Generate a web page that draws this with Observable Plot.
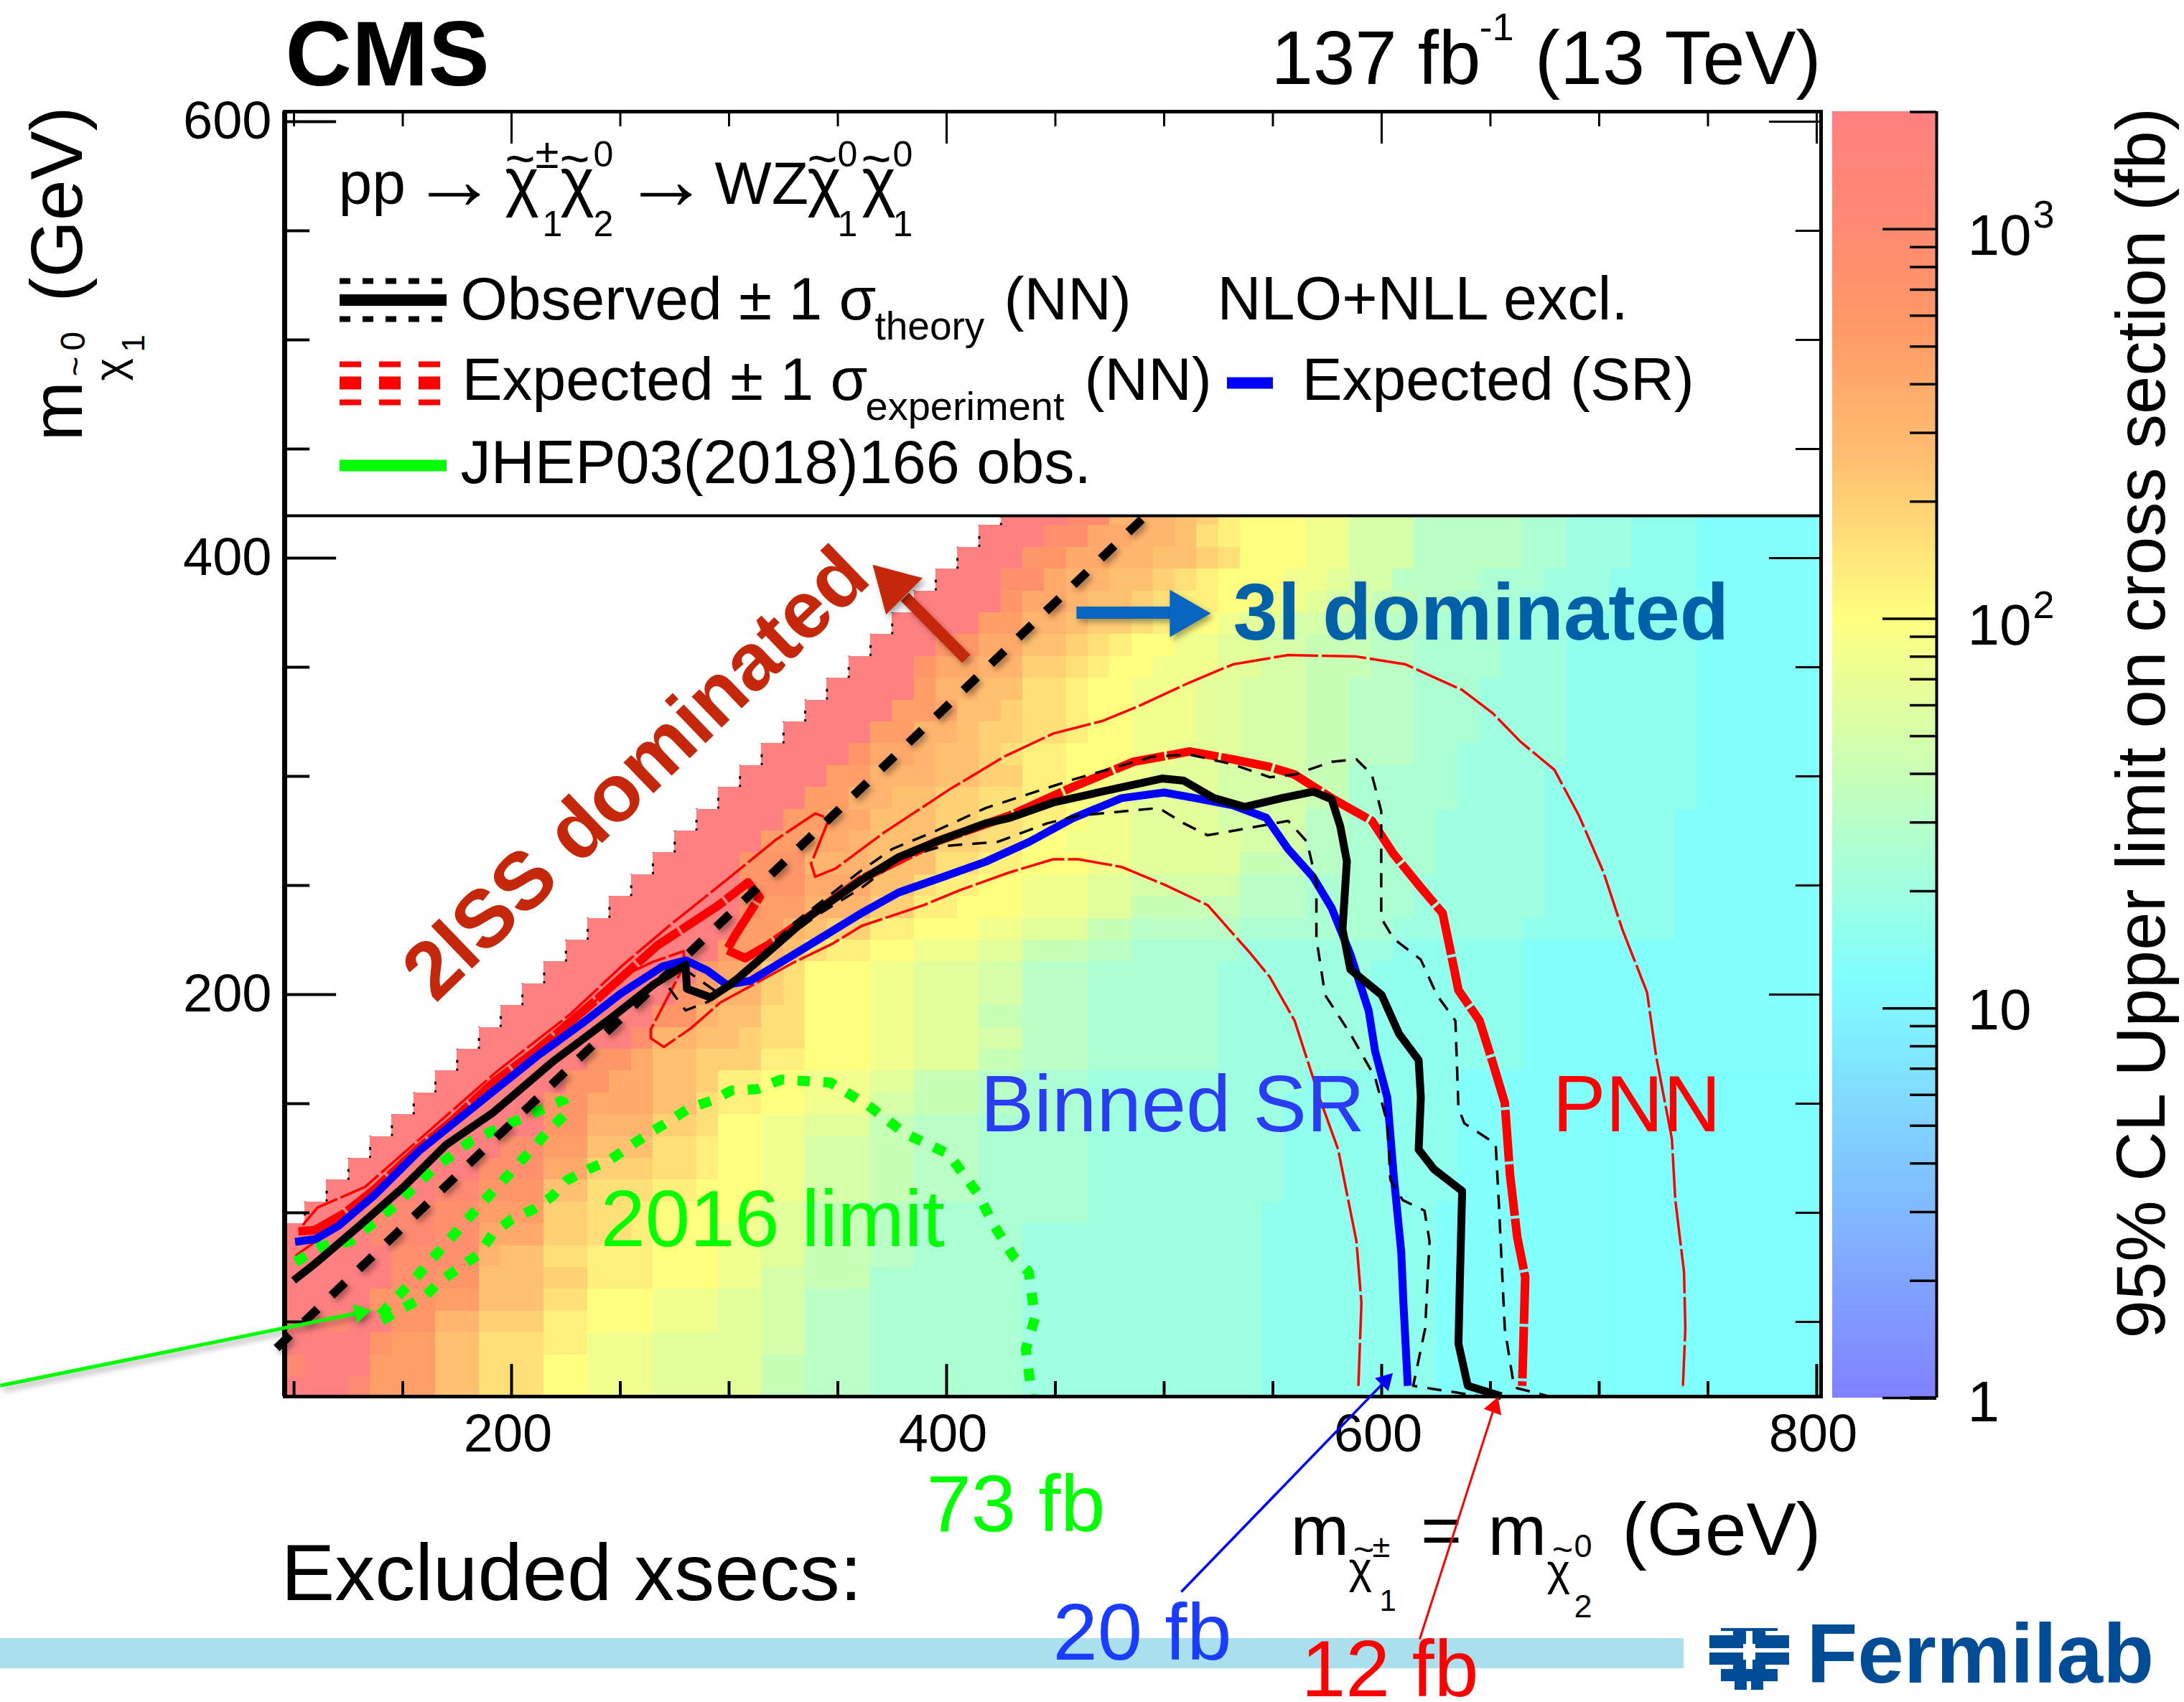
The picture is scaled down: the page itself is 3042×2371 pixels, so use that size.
<!DOCTYPE html>
<html>
<head>
<meta charset="utf-8">
<script src="https://cdn.jsdelivr.net/npm/d3@7"></script>
<script src="https://cdn.jsdelivr.net/npm/@observablehq/plot@0.6"></script>
<style>
html,body{margin:0;padding:0;background:#fff}
#wrap{position:relative;width:3042px;height:2371px;overflow:hidden}
#wrap svg{position:absolute;display:block;max-width:none}
</style>
</head>
<body>
<div id="wrap"></div>
<script>
// ---- limit map, one row per m(LSP) bin: level letter + upper x edge of the run
const heatRowY = [20,30,40,50,60,70,80,90,100,110,120,130,140,150,160,170,180,190,200,210,220,230,240,250,260,270,280,290,300,310,320,330,340,350,360,370,380,390,400,410,420];
const heatRows = [
"m125 l135 i165 f185 d215 b235 a265 9315 7335 6365 5435 4545 3625 2705 1999",
"l105 m135 i165 f185 d215 b235 a265 9315 7335 6365 5435 4545 3625 2705 1999",
"m135 j145 i165 f185 d215 c235 a265 9315 8335 6365 5435 4545 3625 2705 1999",
"m115 l125 m145 j165 g185 e215 c235 b265 a295 9315 8335 6365 5435 4545 3625 2705 1999",
"m135 j165 i185 f215 d235 b265 a295 9315 8335 6365 5435 4545 3625 2705 1999",
"m145 k165 j185 f215 e235 c265 b295 a315 8335 7365 5435 4545 3625 2705 1999",
"m145 k185 g195 f215 d235 c265 b295 a315 9335 7365 6385 5435 4545 3625 2705 1999",
"m135 l165 k185 h215 e235 d255 c265 b295 a315 9335 7365 6385 5435 4545 3625 2705 1999",
"m135 l165 k185 i215 e235 d255 c265 b305 a315 9335 7365 6385 5465 4545 3625 2705 1999",
"m165 l185 j215 f235 d265 c285 b315 a335 8365 7385 6415 5465 4555 3635 2705 1999",
"m185 k215 h235 e265 d285 c295 b315 a335 8365 7385 6415 5465 4555 3635 2705 1999",
"m195 k215 i235 f265 d285 c295 b315 a335 8365 7385 6415 5465 4555 3635 2705 1999",
"m215 j235 g265 e285 d295 b315 a335 9365 7385 6415 5465 4555 3635 2705 1999",
"m215 j235 h265 f285 d295 c315 b335 a365 8385 7415 6435 5465 4555 3635 2705 1999",
"m225 j245 h265 f285 e295 c315 b335 a365 9385 7415 6435 5465 4565 3635 2705 1999",
"m235 j255 h265 f285 e315 c335 b365 a385 9415 7435 6465 5525 4595 3665 2999",
"m255 k265 g285 f305 e315 d335 b365 a385 9415 8435 6465 5525 4595 3665 2999",
"m265 j285 g295 f315 d335 b365 a385 9415 7435 6465 5525 4595 3665 2999",
"m275 j285 i295 g315 e325 d335 b365 a385 9415 8435 6465 5525 4595 3665 2999",
"m285 i295 h315 e325 d335 b365 a385 9415 8435 6465 5525 4595 3665 2999",
"m295 i315 g325 f335 d345 c365 b385 a415 9435 7465 6485 5535 4605 3665 2999",
"m305 i325 g335 f345 e365 c385 b415 a435 9465 7485 6535 5605 4665 3735 2999",
"m305 k315 i335 g365 e385 c405 b435 a465 9485 7535 6565 5615 4675 3735 2999",
"m305 j335 h365 f385 d395 c415 b435 a465 9485 8535 6565 5615 4675 3735 2999",
"m305 j335 g365 f395 d415 c435 b465 a485 9535 7565 6585 5625 4675 3735 2999",
"m315 i335 h355 g365 f395 e415 d435 b455 a485 9535 8565 6585 5625 4675 3735 2999",
"m325 i345 h365 f395 e415 d435 c455 b465 a485 9525 8565 6585 5625 4675 3735 2999",
"m335 i355 g375 f395 e415 d435 c455 b465 a485 9525 8565 7585 5635 4675 3745 2999",
"m345 i365 g395 f415 e435 c455 b475 a495 9525 8565 7585 5635 4675 3745 2999",
"m355 j365 h385 g395 f415 e425 d435 c455 b485 a505 9535 8565 7585 6615 5635 4685 3745 2999",
"m365 i385 g405 f415 e435 d455 c465 b485 a515 9535 8565 7585 6615 5645 4685 3745 2999",
"m375 i395 h405 f425 e435 d455 c465 b485 a515 9535 8565 7585 6615 5645 4685 3745 2999",
"m385 i395 g415 f435 d455 c465 b485 a515 9535 8565 7585 6615 5645 4685 3745 2999",
"m385 j395 h415 g435 e455 d465 c475 b495 a525 9545 8565 7595 6615 5655 4685 3745 2999",
"m395 j415 h435 f455 e465 d475 c485 b505 a525 9545 8565 7595 6615 5655 4685 3745 2999",
"m415 i435 g455 f465 e485 d495 c505 b525 a535 9555 8575 7595 6625 5665 4695 3745 2999",
"m425 j435 h455 g465 f485 e495 d505 c525 b545 a565 9575 8595 7615 6635 5665 4705 3755 2999",
"m425 k445 h455 g475 f495 e505 d515 c525 b555 a575 9585 8605 6645 5675 4705 3745 2999",
"m435 j455 h475 g495 f515 e525 d535 b565 a585 8615 6665 5685 4715 3745 2999",
"m445 k465 h485 g505 f515 d525 c535 b565 a585 8615 6665 5685 4715 3745 2999",
"m455 l475 g505 f515 e525 c535 b565 a585 8615 6665 5685 4715 3745 2999"
];
const heatLevels = "0123456789abcdefghijklmn";
const levelLog = [0.9,1.08,1.1,1.2,1.3,1.4,1.5,1.6,1.7,1.8,1.9,2.0,2.1,2.2,2.3,2.4,2.5,2.6,2.7,2.8,2.9,3.0,3.3,3.3];

// ---- exclusion contours [m chargino, m LSP]
const observed = [[99.8,69],[109.4,76.5],[130,94],[150.5,112],[169.7,131],[191.6,146],[219,169.3],[246.4,189.8],[265.6,204.8],[280,213.7],[280.6,202.7],[291.6,198.7],[301,204.8],[310.5,213],[336.8,235.8],[361,252.6],[378,263],[395,270],[418,278.5],[429,281],[449,288],[475,293.8],[499,299],[509,298],[523,290],[537,286],[554,290],[568.5,293],[577,289.5],[581,277],[584,261],[582,230],[585.6,211.5],[600,199.8],[608,182],[617,170],[618,152.8],[617,129],[624,120],[637,110],[636,70.5],[635.3,40],[639.6,20.7],[655,16]];
const expectedSR = [[100.5,86.7],[110,88],[120.4,94],[136.8,107.9],[157.4,128.3],[183,148.8],[212,172],[232.7,187],[250.5,200.7],[269.7,213],[280,215.7],[290,211],[299,204.5],[310,206.4],[336.8,222.6],[361,237.4],[378,246.8],[398,253.8],[418,260.9],[438,270],[458,280.8],[480.4,290],[500,292.6],[514.5,290],[531.6,286.7],[547,281],[557,266.7],[568.5,253.8],[577,239.7],[585.6,218.5],[594,192.7],[597,174],[602.6,152.8],[605.5,117.5],[609,82],[610,58.7],[612,20.7]];
const expectedNN = [[102,91.5],[109.4,92],[123,99.7],[136.8,110.6],[157.4,129.7],[172.4,142],[191.6,159.7],[210.8,174],[221.7,183],[239.5,198],[267,222.5],[295,240.8],[308.7,251.4],[314,244.6],[302.7,227],[299,220.4],[307.4,216.7],[317.8,222.6],[336.8,235.8],[361,253],[395,270],[429,282],[457.7,295],[486,306.7],[511.7,311.4],[531.6,307.8],[548.6,304.3],[560,300.8],[577,290],[595.5,279.6],[605.5,264.4],[617,250.3],[628,237.3],[631,223],[635.3,202],[645,188],[651,169],[656.6,150.4],[659,117.5],[662.3,89],[666,70.5],[664.6,20.7]];
const expectedUp = [[104,94.3],[110.8,102.4],[132.7,111.9],[171.4,145.7],[193.3,164.8],[227,191],[251.5,213.8],[272.3,231.4],[299,252.7],[321.6,271],[339.6,283],[346,280.6],[337.7,260],[339.6,254],[349,257.8],[370.9,274],[387.6,285],[401,293.8],[426.4,309],[449,319.6],[472,325.5],[489,332.5],[511.7,343],[531.6,351.3],[557,355.6],[588.4,354.9],[611,351.3],[637,339.6],[651,329],[663.7,316],[679.4,303],[690.7,282],[702,256],[710.6,230],[722,201],[726.2,171.6],[733.4,134],[735,105.8],[739,72.9],[739.6,47],[738.5,20.7]];
const expectedDown = [[100.7,80.3],[120,94],[165,135],[200,163],[252,208.9],[265,215],[279.2,219.9],[279.2,213],[274,203],[264,184],[264,180],[270,176],[282.5,184.6],[296,196.4],[311,204.5],[329.7,214.7],[347.9,223.5],[361,231.5],[389.5,241],[406.5,248],[429,256],[449,262],[460.5,262],[480.4,258.5],[500.3,250.3],[520,241],[540,218.5],[548.6,208],[560,188],[571.4,152.8],[580,129],[588.4,87],[590.7,58.7],[589.3,20.7]];
const observedUp = [[279,212],[286,207],[296,200],[330,233],[361,257],[375,266.7],[395,275],[418,285.5],[457.7,298.4],[494.6,309],[511.7,310],[531.6,305.5],[548.6,299.6],[560,300.8],[577,306.7],[588.4,307.8],[595.5,300.8],[599.8,284],[599.8,235],[605.5,225.6],[618,216],[625.4,199.8],[633.9,188],[635.3,148],[638,141],[652.4,131.6],[653.8,105.8],[656.6,47],[660.9,20],[676.5,16]];
const observedDown = [[272.4,203],[280,192.7],[291,197],[300,206],[340,236],[361,249],[378,262],[398,268],[423.6,270],[446.3,278.5],[460.5,282],[497.5,285.5],[509,278.5],[520,273],[537,276],[557,279.6],[565.7,270],[570,251.5],[570,225.6],[574,199.8],[585.6,182],[597,162],[602.6,141],[604,115],[609.7,105.8],[619.7,101],[622,87],[620,47],[614.5,20.7],[645,16]];
const limit2016 = [[100.7,77.4],[112.5,84.7],[126,87],[146,103],[164.7,120.7],[173.9,127.3],[181.5,133],[191.6,137.6],[211.8,146.4],[223.6,151.6],[226,146.4],[216.9,137.6],[201.7,120.7],[186.6,104.6],[171.4,87.7],[157,71.5],[148.7,62.7],[139.4,53.1],[138.6,49.5],[149.5,56],[159.6,61.2],[167.2,68.6],[176.5,75.2],[184.9,81],[191.6,90.6],[200,97],[210.1,101.6],[218.5,107.5],[225.3,114.8],[235.4,120],[245.5,124.4],[254,130.3],[264,136.9],[272.4,142],[281.7,148],[292.6,151.6],[301,156],[312.9,156.7],[323.8,161],[334.7,160.4],[346.5,159.7],[363.9,149.2],[381,136.3],[400.8,127],[415,108],[420.7,96],[430.7,80],[437.8,72.9],[440.6,51.7],[436.4,37.6],[439.2,16.5]];
const diagonal = [[92,38],[490,418]];

// ---- axes
const xMajor = [200,400,600,800];
const xMinor = [100,150,250,300,350,450,500,550,650,700,750];
const yMajor = [200,400,600];
const yMinor = [50,100,150,250,300,350,450,500,550];
const zMajor = [1,10,100,1000];
const zMinor = [2,3,4,5,6,7,8,9,20,30,40,50,60,70,80,90,200,300,400,500,600,700,800,900,2000];

// ---- shared scales
const X0=95.7, X1=802, Y0=15.8, Y1=604.6, YB=419.4;
const colorScale = {type:"log", domain:[1,12,100,251,562,1000,2000],
  range:["#8080ff","#80ffff","#ffff80","#ffc070","#ff9966","#ff8a72","#ff8080"]};
const FONT = "Liberation Sans";

const cells = [];
heatRows.forEach((row,i)=>{
  const y = heatRowY[i]; let col = y+10;
  row.split(" ").forEach(run=>{
    const lv = levelLog[heatLevels.indexOf(run[0])], end = +run.slice(1);
    while (col < end && col <= 800) { cells.push({x:col,y,v:Math.pow(10,lv)}); col += 10; }
  });
});

// text placed relative to the page, through the frame's anchor
function label(text, px, py, o={}, frame=[396,155]) {
  return Plot.text([text], {text:d=>d, frameAnchor:"top-left", dx:px-frame[0], dy:py-frame[1],
    textAnchor:o.anchor||"start", lineAnchor:"bottom", fontSize:o.size||84,
    fontWeight:o.weight||"normal", fill:o.color||"#000", fontFamily:FONT, rotate:o.rotate||0});
}
const dataX = px => 200+(px-712)/3.03, dataY = py => 200-(py-1385)/3.04;
// soft shadow used by the reference on the diagonal and the arrows
const shadow = (i,s,v,d,c,next) => { const g = next(i,s,v,d,c); g.style.filter = "drop-shadow(4px 5px 4px rgba(0,0,0,0.35))"; return g; };
const line = (pts,o) => Plot.line(pts,{x:d=>d[0],y:d=>d[1],strokeLinejoin:"round",strokeLinecap:"butt",...o});
const head = (x,y,r,rotate,fill,render) => Plot.dot([[x,y]],{x:d=>d[0],y:d=>d[1],symbol:"triangle",r,rotate,fill,stroke:"none",render});
const legendLine = (py,x1,x2,stroke,w,dash) => Plot.ruleY([dataY(py)],{x1:dataX(x1),x2:dataX(x2),stroke,strokeWidth:w,strokeDasharray:dash});

const logo = [[2397,2268,2476,2272],[2381,2278,2428,2296],[2445,2278,2492,2296],[2414,2272,2432,2290],[2441,2272,2459,2290],
  [2381,2302,2428,2319],[2445,2302,2492,2319],[2414,2312,2432,2330],[2441,2312,2459,2330],[2397,2325,2476,2342],[2416,2342,2433,2354],[2439,2342,2456,2354]];

const main = Plot.plot({
  width:3042, height:2371, marginLeft:396, marginRight:506, marginTop:155, marginBottom:426,
  x:{domain:[X0,X1]}, y:{domain:[Y0,Y1]}, color:colorScale,
  style:{fontFamily:FONT, background:"#fff", overflow:"visible"},
  marks:[
    // bottom band
    Plot.rect([0],{x1:dataX(0),x2:dataX(2345),y1:dataY(2282),y2:dataY(2324),fill:"#aadfee"}),
    // limit map
    Plot.rect(cells,{x1:d=>d.x-5,x2:d=>d.x+5,y1:d=>d.y-5,y2:d=>Math.min(d.y+5,YB),fill:"v",clip:"frame",shapeRendering:"crispEdges"}),
    // stair-step contour fragments
    Plot.ruleX(d3.range(105,430,10),{x:d=>d,y1:d=>d-10,y2:d=>Math.min(d,YB),stroke:"#000",strokeWidth:3,strokeDasharray:"3 8 4 15"}),
    // contours
    line(expectedUp,{stroke:"#ff0000",strokeWidth:3.5,strokeDasharray:"62 5"}),
    line(expectedDown,{stroke:"#ff0000",strokeWidth:3.5,strokeDasharray:"62 5"}),
    line(limit2016,{stroke:"#00ff00",strokeWidth:14,strokeDasharray:"17 19",strokeLinejoin:"miter"}),
    line(expectedNN,{stroke:"#ff0000",strokeWidth:12,strokeDasharray:"72 4"}),
    line(diagonal,{stroke:"#000",strokeWidth:12,strokeDasharray:"26 27",render:shadow}),
    line(expectedSR,{stroke:"#0000ff",strokeWidth:11}),
    line(observedUp,{stroke:"#000",strokeWidth:3.5,strokeDasharray:"20 14"}),
    line(observedDown,{stroke:"#000",strokeWidth:3.5,strokeDasharray:"20 14"}),
    line(observed,{stroke:"#000",strokeWidth:11}),
    // legend box rule and frame ticks
    Plot.ruleY([YB],{stroke:"#000",strokeWidth:4}),
    Plot.ruleX(xMajor,{y1:Y0,y2:Y0+14.8,stroke:"#000",strokeWidth:4}),
    Plot.ruleX(xMinor,{y1:Y0,y2:Y0+6.9,stroke:"#000",strokeWidth:4}),
    Plot.ruleX(xMajor,{y1:Y1,y2:Y1-14.8,stroke:"#000",strokeWidth:3}),
    Plot.ruleX(xMinor,{y1:Y1,y2:Y1-6.9,stroke:"#000",strokeWidth:3}),
    Plot.ruleY(yMajor,{x1:X0,x2:X0+23.8,stroke:"#000",strokeWidth:4}),
    Plot.ruleY(yMinor,{x1:X0,x2:X0+11.6,stroke:"#000",strokeWidth:4}),
    Plot.ruleY(yMajor,{x1:X1,x2:X1-23.8,stroke:"#000",strokeWidth:3}),
    Plot.ruleY(yMinor,{x1:X1,x2:X1-11.6,stroke:"#000",strokeWidth:3}),
    Plot.frame({stroke:"#000",strokeWidth:5}),
    Plot.ruleX([X0],{stroke:"#000",strokeWidth:7}),
    Plot.axisX({anchor:"bottom",ticks:xMajor,tickSize:0,tickPadding:24,fontSize:74,dx:-5,label:null,tickFormat:d=>String(d)}),
    Plot.axisY({anchor:"left",ticks:yMajor,tickSize:0,tickPadding:18,fontSize:74,label:null,tickFormat:d=>String(d)}),
    // header
    label("CMS",397,118,{size:128,weight:"bold"}),
    label("137 fb",1770,116,{size:105}),
    label("-1",2060,55,{size:54}),
    label("(13 TeV)",2536,116,{size:106,anchor:"end"}),
    // process line
    label("pp",471,283,{size:84}),
    label("→",632,290,{size:120,anchor:"middle"}),
    label("χ",703,283,{size:90}), label("~",724,245,{size:72,anchor:"middle"}), label("1",755,328,{size:50}), label("±",745,233,{size:60}),
    label("χ",780,283,{size:90}), label("~",800,245,{size:72,anchor:"middle"}), label("2",826,328,{size:50}), label("0",826,231,{size:50}),
    label("→",927,290,{size:120,anchor:"middle"}),
    label("WZ",995,283,{size:84}),
    label("χ",1124,283,{size:90}), label("~",1145,245,{size:72,anchor:"middle"}), label("1",1166,328,{size:50}), label("0",1166,231,{size:50}),
    label("χ",1200,283,{size:90}), label("~",1220,245,{size:72,anchor:"middle"}), label("1",1243,328,{size:50}), label("0",1243,231,{size:50}),
    // legend
    legendLine(417.6,473,622,"#000",16),
    legendLine(391,473,622,"#000",8,"15 17"),
    legendLine(444,473,622,"#000",8,"15 17"),
    legendLine(533,473,616,"#ff0000",18,"30 25"),
    legendLine(507,473,616,"#ff0000",8,"30 25"),
    legendLine(560,473,616,"#ff0000",8,"30 25"),
    legendLine(533,1709,1773,"#0000ff",16),
    legendLine(648,473,622,"#00ff00",16),
    label("Observed ± 1 σ",641,444,{size:84}),
    label("theory",1218,472,{size:55}),
    label("(NN)",1398,444,{size:84}),
    label("NLO+NLL excl.",1695,444,{size:84.5}),
    label("Expected ± 1 σ",643,556,{size:84}),
    label("experiment",1205,584,{size:56}),
    label("(NN)",1510,556,{size:84}),
    label("Expected (SR)",1813,556,{size:84}),
    label("JHEP03(2018)166 obs.",641,672,{size:84.5}),
    // y title
    label("m",113,614,{size:100,rotate:-90}),
    label("0",117,488,{size:48,rotate:-90}),
    label("χ",172,530,{size:60,rotate:-90}),
    label("~",120,510,{size:48,rotate:-90,anchor:"middle"}),
    label("1",200,490,{size:44,rotate:-90}),
    label("(GeV)",113,420,{size:102,rotate:-90}),
    // colour-bar title
    label("95% CL Upper limit on cross section (fb)",3014,1864,{size:96,rotate:-90}),
    // x title
    label("m",1797,2165,{size:98}),
    label("χ",1878,2204,{size:62}), label("~",1899,2175,{size:50,anchor:"middle"}), label("±",1911,2168,{size:45}), label("1",1921,2243,{size:42}),
    label("=",2007,2165,{size:98,anchor:"middle"}),
    label("m",2072,2165,{size:98}),
    label("χ",2154,2207,{size:62}), label("~",2176,2175,{size:50,anchor:"middle"}), label("0",2192,2168,{size:45}), label("2",2192,2252,{size:45}),
    label("(GeV)",2536,2165,{size:104,anchor:"end"}),
    // annotations
    label("2lSS dominated",606,1398,{size:113,weight:"bold",color:"#c4270a",rotate:-44}),
    label("3l dominated",1717,890,{size:112,weight:"bold",color:"#0060a8"}),
    label("Binned SR",1365,1575,{size:112,color:"#2a3cf4"}),
    label("PNN",2162,1575,{size:111,color:"#ff0000"}),
    label("2016 limit",836,1735,{size:112,color:"#00ff00"}),
    label("Excluded xsecs:",391,2228,{size:112}),
    label("73 fb",1290,2132,{size:112,color:"#00ff00"}),
    label("20 fb",1466,2311,{size:112,color:"#1a3cff"}),
    label("12 fb",1812,2362,{size:111,color:"#ff0000"}),
    // arrows
    line([[409,353.8],[380.8,382.3]],{stroke:"#c4270a",strokeWidth:16,render:shadow}),
    head(375.7,387.3,26.7,-45,"#c4270a",shadow),
    line([[459.7,375],[503,375]],{stroke:"#0866c0",strokeWidth:17,render:shadow}),
    head(508.9,374.7,24.5,90,"#0866c0",shadow),
    line([[-35,20.8],[130.5,54.3]],{stroke:"#00ff00",strokeWidth:5,render:shadow}),
    head(130.5,54.3,10,78,"#00ff00",shadow),
    line([[507.9,-73.7],[601.7,23]],{stroke:"#0000ff",strokeWidth:3.5}),
    head(601.7,23,9.6,44,"#0000ff"),
    line([[dataX(1977),dataY(2283)],[651.8,11]],{stroke:"#ff0000",strokeWidth:3}),
    head(651.8,11,9.6,20,"#ff0000"),
    // Fermilab mark
    Plot.rect(logo,{x1:d=>dataX(d[0]),y1:d=>dataY(d[1]),x2:d=>dataX(d[2]),y2:d=>dataY(d[3]),fill:"#004c97"}),
    label("Fermilab",2516,2343,{size:116,weight:"bold",color:"#004c97"})
  ]
});
main.style.left="0"; main.style.top="0";

// colour bar with its own log axis
const ramp = d3.range(0,320).map(i=>{const a=i*3.302/320,b=(i+1)*3.302/320;return {lo:Math.pow(10,a),hi:Math.pow(10,b),v:Math.pow(10,(a+b)/2)};});
const cb=[2552,155];
const bar = Plot.plot({
  width:490, height:2371, marginLeft:0, marginRight:345, marginTop:155, marginBottom:2371-1947,
  x:{domain:[0,1],axis:null}, y:{type:"log",domain:[1,2004],axis:null}, color:colorScale,
  style:{fontFamily:FONT, background:"transparent", overflow:"visible"},
  marks:[
    Plot.rect(ramp,{x1:0,x2:1,y1:"lo",y2:"hi",fill:"v",shapeRendering:"crispEdges"}),
    Plot.ruleY(zMajor,{x1:1-75/145,x2:1,stroke:"#000",strokeWidth:3.5}),
    Plot.ruleY(zMinor,{x1:1-37/145,x2:1,stroke:"#000",strokeWidth:3.5}),
    Plot.ruleX([1],{stroke:"#000",strokeWidth:4}),
    Plot.ruleY([1],{x1:1-37/145,x2:1,stroke:"#000",strokeWidth:5}),
    label("10",2740,354,{size:80},cb), label("3",2831,316,{size:54},cb),
    label("10",2740,897,{size:80},cb), label("2",2831,860,{size:54},cb),
    label("10",2740,1433,{size:80},cb),
    label("1",2740,1979,{size:80},cb)
  ]
});
bar.style.left="2552px"; bar.style.top="0";
const wrap=document.getElementById("wrap");
wrap.appendChild(main); wrap.appendChild(bar);
</script>
</body>
</html>
